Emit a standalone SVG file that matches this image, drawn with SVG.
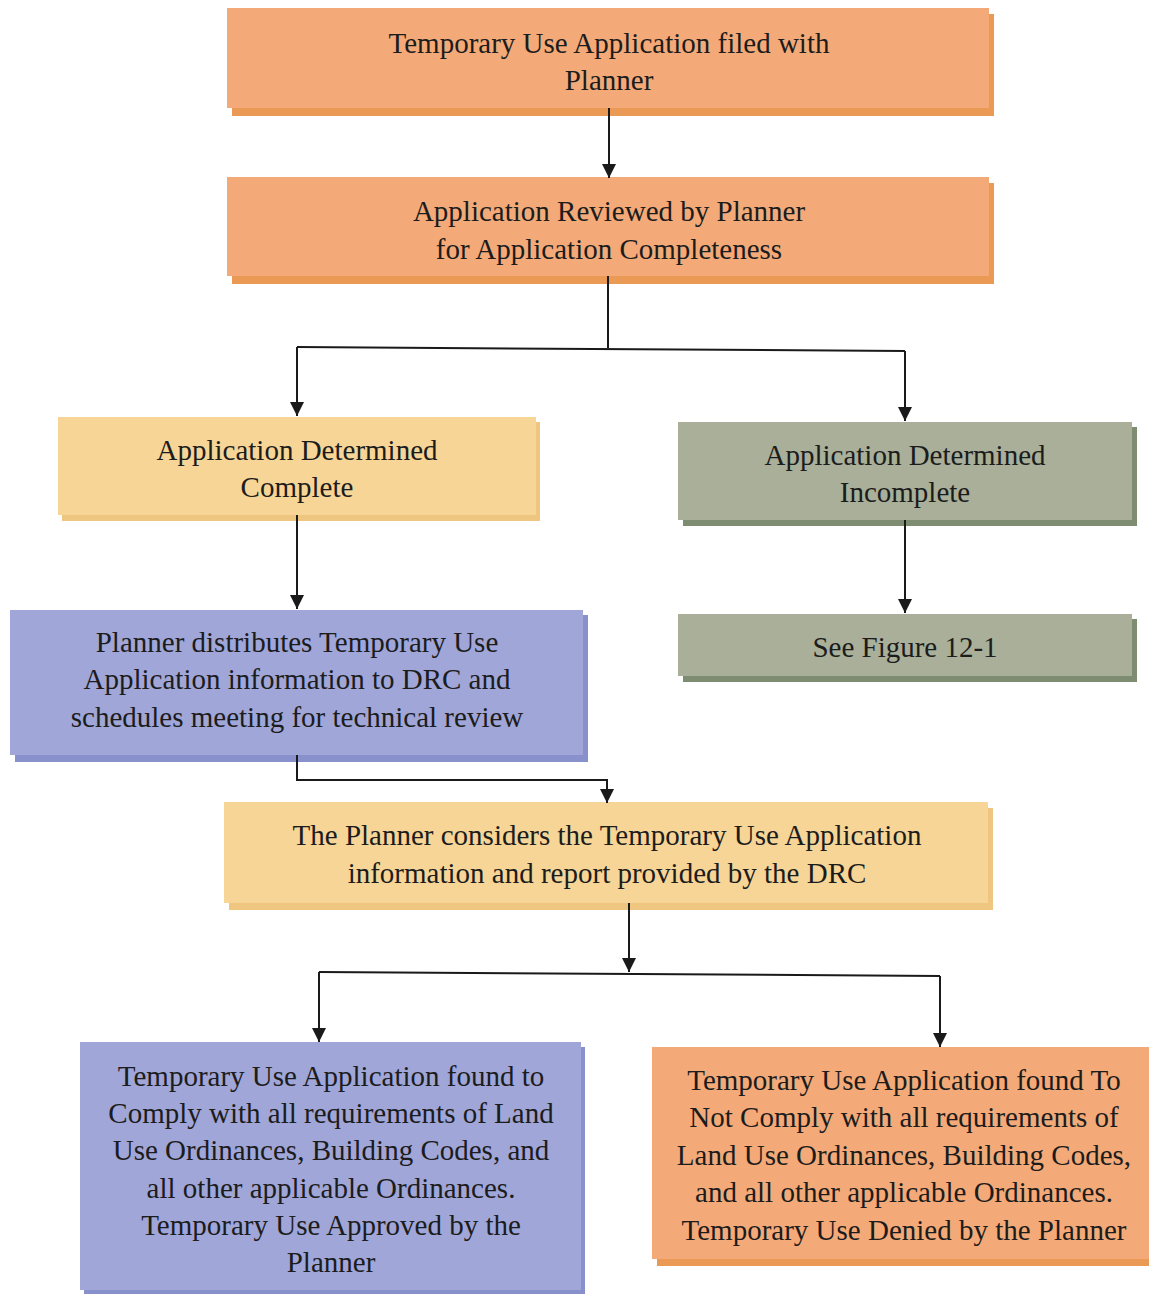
<svg xmlns="http://www.w3.org/2000/svg" width="1149" height="1294" viewBox="0 0 1149 1294">
<defs>
<marker id="ah" viewBox="0 0 14 14" refX="14" refY="7" markerWidth="14" markerHeight="14" markerUnits="userSpaceOnUse" orient="auto">
<path d="M0,0 L14,7 L0,14 Z" fill="#1a1a1a"/>
</marker>
</defs>
<style>
text{font-family:"Liberation Serif","Times New Roman",serif;font-size:29px;fill:#1c1c1c;text-anchor:middle}
.orF{fill:#f3aa78}.orS{fill:#ea9a55}
.yeF{fill:#f7d597}.yeS{fill:#efc67f}
.grF{fill:#a9af99}.grS{fill:#7e8c72}
.blF{fill:#a0a6d8}.blS{fill:#8891cc}
.ln{stroke:#1a1a1a;stroke-width:2;fill:none}
</style>
<rect width="1149" height="1294" fill="#ffffff"/>
<g id="n1">
<rect class="orS" x="232" y="14" width="762" height="102"/>
<rect class="orF" x="227" y="8" width="762" height="100"/>
<text x="609" y="53">Temporary Use Application filed with</text>
<text x="609" y="90">Planner</text>
</g>
<g id="n2">
<rect class="orS" x="232" y="183" width="762" height="101"/>
<rect class="orF" x="227" y="177" width="762" height="99"/>
<text x="609" y="221">Application Reviewed by Planner</text>
<text x="609" y="259">for Application Completeness</text>
</g>
<g id="n3">
<rect class="yeS" x="62" y="422" width="478" height="99"/>
<rect class="yeF" x="58" y="417" width="478" height="98"/>
<text x="297" y="460">Application Determined</text>
<text x="297" y="497">Complete</text>
</g>
<g id="n4">
<rect class="grS" x="683" y="427" width="454" height="99"/>
<rect class="grF" x="678" y="422" width="454" height="98"/>
<text x="905" y="465">Application Determined</text>
<text x="905" y="502">Incomplete</text>
</g>
<g id="n5">
<rect class="grS" x="683" y="619" width="454" height="63"/>
<rect class="grF" x="678" y="614" width="454" height="62"/>
<text x="905" y="657">See Figure 12-1</text>
</g>
<g id="n6">
<rect class="blS" x="15" y="615" width="573" height="147"/>
<rect class="blF" x="10" y="610" width="573" height="145"/>
<text x="297" y="652">Planner distributes Temporary Use</text>
<text x="297" y="689">Application information to DRC and</text>
<text x="297" y="727">schedules meeting for technical review</text>
</g>
<g id="n7">
<rect class="yeS" x="229" y="808" width="764" height="102"/>
<rect class="yeF" x="224" y="802" width="764" height="101"/>
<text x="607" y="845">The Planner considers the Temporary Use Application</text>
<text x="607" y="883">information and report provided by the DRC</text>
</g>
<g id="n8">
<rect class="blS" x="84" y="1047" width="501" height="247"/>
<rect class="blF" x="80" y="1042" width="501" height="248"/>
<text x="331" y="1086">Temporary Use Application found to</text>
<text x="331" y="1123">Comply with all requirements of Land</text>
<text x="331" y="1160">Use Ordinances, Building Codes, and</text>
<text x="331" y="1198">all other applicable Ordinances.</text>
<text x="331" y="1235">Temporary Use Approved by the</text>
<text x="331" y="1272">Planner</text>
</g>
<g id="n9">
<rect class="orS" x="657" y="1053" width="492" height="213"/>
<rect class="orF" x="652" y="1047" width="497" height="212"/>
<text x="904" y="1090">Temporary Use Application found To</text>
<text x="904" y="1127">Not Comply with all requirements of</text>
<text x="904" y="1165">Land Use Ordinances, Building Codes,</text>
<text x="904" y="1202">and all other applicable Ordinances.</text>
<text x="904" y="1240">Temporary Use Denied by the Planner</text>
</g>
<g id="connectors">
<path class="ln" d="M609,108 V178" marker-end="url(#ah)"/>
<path class="ln" d="M608,276 V348"/>
<path class="ln" d="M297,347 L905,351"/>
<path class="ln" d="M297,347 V416" marker-end="url(#ah)"/>
<path class="ln" d="M905,351 V421" marker-end="url(#ah)"/>
<path class="ln" d="M297,515 V609" marker-end="url(#ah)"/>
<path class="ln" d="M905,520 V613" marker-end="url(#ah)"/>
<path class="ln" d="M297,755 V780 H607 V803" marker-end="url(#ah)"/>
<path class="ln" d="M629,903 V972" marker-end="url(#ah)"/>
<path class="ln" d="M319,972 L940,976"/>
<path class="ln" d="M319,972 V1042" marker-end="url(#ah)"/>
<path class="ln" d="M940,976 V1047" marker-end="url(#ah)"/>
</g>
</svg>
